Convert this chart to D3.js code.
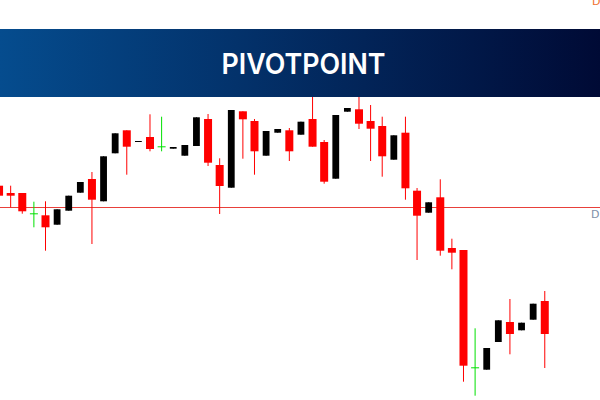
<!DOCTYPE html>
<html>
<head>
<meta charset="utf-8">
<script src="https://cdnjs.cloudflare.com/ajax/libs/d3/7.8.5/d3.min.js"></script>
<style>
  html, body { margin: 0; padding: 0; background: #fff; overflow: hidden; }
</style>
</head>
<body>
<div id="chart"></div>
<script>
// values are read off the picture, no price axis is shown so the unit is arbitrary
const bodyTop = [185.7,193,193,213.3,215.3,209.3,195.7,182,179,156.3,133.3,130.3,141,137,146.3,147,145,117.3,119,165,110,111.3,121,131,129,130.3,121.7,119,142,115,108,109.3,121,126,135.3,132.7,190.7,202.3,197.3,248,250,367.3,348,320.3,322,322.7,303.7,301];
const bodyBottom = [195.7,195.7,211.3,214,227.3,224.7,210.7,192.7,199.7,201.3,153.3,146.7,142,149,147,148.7,155.7,146,162.7,186,187.7,119.3,151.3,155.7,132.7,151.3,134.7,146.7,181.7,178.7,111.7,123.7,128.7,156.3,159.7,188.3,215.7,212.7,250.7,252.7,365.7,368.3,369.7,342,334,330.3,319.7,334];
const wickTop = [185.7,185.7,193,201.7,201.3,209.3,195.7,182,172,156.3,133.3,130.3,141,114.3,116.7,147,145,117.3,114,158.3,110,111.3,119,131,129,128,121.7,90,140,115,108,90,105,116.7,135.3,116.7,188,202.3,179.3,238.7,250,328.3,348,320.3,299,322.7,303.7,291];
const wickBottom = [195.7,207.3,213.7,227.3,250.7,224.7,210.7,192.7,244,201.3,153.3,174.7,142,151.3,151.3,148.7,155.7,146,166,214,187.7,158.7,174.7,155.7,132.7,161,134.7,146.7,183.7,178.7,111.7,129,161,176.7,159.7,199.7,260,212.7,255.7,269.3,381.7,395.7,369.7,342,354.3,330.3,319.7,368];
const candleKind = ["down","down","down","doji","down","up","up","up","down","up","up","down","up","down","doji","up","up","up","down","down","up","down","down","up","up","down","up","down","down","up","up","down","down","down","up","down","down","up","down","down","down","doji","up","up","down","up","up","down"];
const priceLine = 207.5;
const title = "PIVOTPOINT";
const sideLabel = "D";

const width = 600, height = 400;
const kindColor = { down: "#ff0000", up: "#000000", doji: "#00e000" };

const svg = d3.select("#chart").append("svg")
  .attr("width", width)
  .attr("height", height)
  .style("display", "block");

const defs = svg.append("defs");
const grad = defs.append("linearGradient").attr("id", "banner-grad");
grad.append("stop").attr("offset", "0%").attr("stop-color", "#054c8e");
grad.append("stop").attr("offset", "100%").attr("stop-color", "#000a35");

// candle index to pixel, the first candle is cut off by the left edge
const x = d3.scaleLinear().domain([0, candleKind.length - 1]).range([-0.943, 544.77]);
const y = d3.scaleLinear().domain([0, height]).range([0, height]);

svg.append("line")
  .attr("x1", 0).attr("x2", width)
  .attr("y1", y(priceLine)).attr("y2", y(priceLine))
  .attr("stroke", "#e8403a")
  .attr("stroke-width", 1);

svg.append("g").selectAll("line")
  .data(candleKind)
  .join("line")
  .attr("x1", (d, i) => x(i)).attr("x2", (d, i) => x(i))
  .attr("y1", (d, i) => y(wickTop[i]))
  .attr("y2", (d, i) => y(wickBottom[i]))
  .attr("stroke", d => kindColor[d])
  .attr("stroke-width", 1);

svg.append("g").selectAll("rect")
  .data(candleKind)
  .join("rect")
  .attr("x", (d, i) => x(i) - (d === "up" ? 3.4 : 4))
  .attr("width", d => d === "up" ? 6.8 : 8)
  .attr("y", (d, i) => y(bodyTop[i]))
  .attr("height", (d, i) => Math.max(1, y(bodyBottom[i]) - y(bodyTop[i])))
  .attr("fill", d => kindColor[d]);

svg.append("rect")
  .attr("x", 0).attr("y", 29)
  .attr("width", width).attr("height", 68)
  .attr("fill", "url(#banner-grad)");

svg.append("text")
  .attr("x", 303.5).attr("y", 74)
  .attr("text-anchor", "middle")
  .attr("font-family", "Inter, 'Open Sans', sans-serif")
  .attr("font-size", 28.5)
  .attr("font-weight", 600)
  .attr("textLength", 164)
  .attr("lengthAdjust", "spacingAndGlyphs")
  .attr("fill", "#ffffff")
  .text(title);

svg.append("text")
  .attr("x", 591).attr("y", 218)
  .attr("font-family", "'DejaVu Sans', sans-serif")
  .attr("font-size", 11)
  .attr("fill", "#8090a8")
  .text(sideLabel);

svg.append("text")
  .attr("x", 592).attr("y", 5)
  .attr("font-family", "'DejaVu Sans', sans-serif")
  .attr("font-size", 11)
  .attr("fill", "#f07030")
  .text(sideLabel);
</script>
</body>
</html>
